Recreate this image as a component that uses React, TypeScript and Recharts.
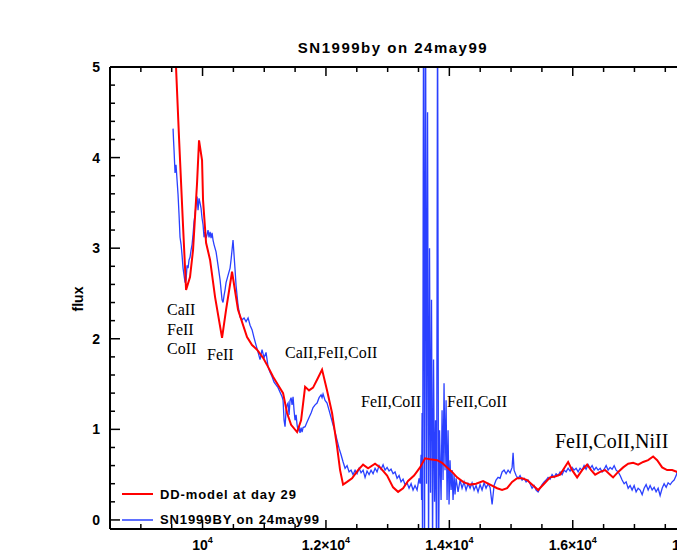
import React from 'react';
import { LineChart, Line, XAxis, YAxis } from 'recharts';

// DD model spectrum: [wavelength (A), flux]
const model: [number, number][] = [
  [9550, 5.3], [9570, 5.0], [9620, 4.2], [9680, 3.3], [9733, 2.54], [9797, 2.68], [9846, 2.98],
  [9911, 3.72], [9943, 4.19], [9992, 3.97], [10008, 3.53], [10057, 3.06], [10122, 2.87], [10203, 2.46],
  [10316, 2.01], [10381, 2.32], [10478, 2.74], [10575, 2.32], [10721, 2.02], [10802, 1.93], [10883, 1.88],
  [10981, 1.79], [11062, 1.69], [11143, 1.58], [11224, 1.49], [11305, 1.4], [11370, 1.18], [11435, 1.05],
  [11532, 0.97], [11597, 1.1], [11662, 1.47], [11726, 1.43], [11791, 1.46], [11872, 1.57], [11937, 1.66],
  [12018, 1.43], [12099, 1.18], [12180, 0.81], [12229, 0.55], [12278, 0.39], [12342, 0.42], [12423, 0.46],
  [12520, 0.55], [12602, 0.61], [12683, 0.57], [12796, 0.62], [12877, 0.58], [12991, 0.49], [13088, 0.36],
  [13169, 0.31], [13250, 0.35], [13331, 0.43], [13428, 0.49], [13525, 0.58], [13606, 0.68], [13687, 0.67],
  [13801, 0.66], [13882, 0.63], [13963, 0.58], [14044, 0.53], [14125, 0.47], [14222, 0.42], [14336, 0.39],
  [14433, 0.4], [14547, 0.43], [14660, 0.39], [14774, 0.35], [14855, 0.33], [14936, 0.35], [15017, 0.42],
  [15098, 0.46], [15179, 0.46], [15260, 0.44], [15358, 0.38], [15439, 0.33], [15536, 0.4], [15633, 0.47],
  [15714, 0.48], [15795, 0.5], [15860, 0.57], [15925, 0.64], [15990, 0.55], [16071, 0.47], [16152, 0.55],
  [16233, 0.61], [16298, 0.55], [16363, 0.5], [16444, 0.53], [16525, 0.55], [16606, 0.5], [16654, 0.47],
  [16736, 0.53], [16817, 0.58], [16898, 0.62], [16979, 0.63], [17060, 0.61], [17141, 0.64], [17222, 0.66],
  [17303, 0.7], [17368, 0.66], [17449, 0.58], [17530, 0.55], [17611, 0.55], [17692, 0.53], [17900, 0.52],
  [18100, 0.52],
];

// observed SN1999BY spectrum: [wavelength (A), flux]
const observed: [number, number][] = [
  [9522, 4.32], [9530, 4.19], [9538, 4.08], [9554, 3.83], [9570, 3.92], [9587, 3.75], [9603, 3.59],
  [9619, 3.37], [9635, 3.12], [9652, 3.04], [9668, 2.92], [9684, 2.78], [9700, 2.7], [9717, 2.62],
  [9733, 2.65], [9749, 2.81], [9765, 2.78], [9781, 2.87], [9797, 2.9], [9814, 2.98], [9830, 3.04],
  [9846, 3.15], [9862, 3.29], [9878, 3.37], [9895, 3.48], [9911, 3.57], [9927, 3.42], [9943, 3.55],
  [9959, 3.5], [9976, 3.44], [9992, 3.33], [10008, 3.26], [10024, 3.12], [10041, 3.18], [10057, 3.11],
  [10073, 3.15], [10089, 3.2], [10105, 3.12], [10122, 3.18], [10138, 3.11], [10154, 3.17], [10170, 3.09],
  [10186, 3.04], [10219, 2.96], [10251, 2.81], [10284, 2.65], [10316, 2.43], [10332, 2.4], [10349, 2.48],
  [10365, 2.54], [10381, 2.62], [10413, 2.7], [10446, 2.78], [10462, 2.87], [10478, 2.98], [10494, 3.09],
  [10511, 2.92], [10527, 2.76], [10543, 2.59], [10575, 2.37], [10608, 2.24], [10640, 2.21], [10673, 2.23],
  [10705, 2.19], [10738, 2.23], [10770, 2.15], [10802, 2.1], [10835, 2.01], [10867, 1.93], [10900, 1.85],
  [10932, 1.77], [10964, 1.88], [10997, 1.79], [11029, 1.85], [11062, 1.69], [11094, 1.63], [11127, 1.58],
  [11159, 1.52], [11191, 1.49], [11224, 1.46], [11256, 1.41], [11289, 1.36], [11305, 1.32], [11321, 1.1],
  [11337, 1.03], [11354, 1.21], [11370, 1.27], [11386, 1.29], [11402, 1.16], [11418, 1.32], [11435, 1.35],
  [11451, 1.27], [11467, 1.36], [11483, 1.21], [11499, 1.1], [11516, 1.16], [11532, 1.05], [11548, 0.99],
  [11564, 1.02], [11580, 0.96], [11597, 1.02], [11613, 0.97], [11629, 1.02], [11662, 1.03], [11694, 1.08],
  [11726, 1.13], [11759, 1.18], [11791, 1.24], [11824, 1.27], [11856, 1.29], [11889, 1.35], [11921, 1.38],
  [11937, 1.35], [11953, 1.39], [11986, 1.32], [12018, 1.29], [12051, 1.21], [12083, 1.13], [12115, 1.05],
  [12148, 0.97], [12180, 0.88], [12213, 0.79], [12245, 0.72], [12278, 0.64], [12310, 0.57], [12342, 0.6],
  [12375, 0.53], [12407, 0.55], [12439, 0.5], [12472, 0.55], [12504, 0.51], [12537, 0.57], [12569, 0.52],
  [12602, 0.55], [12634, 0.47], [12666, 0.54], [12699, 0.5], [12731, 0.55], [12764, 0.51], [12796, 0.57],
  [12828, 0.53], [12861, 0.6], [12893, 0.56], [12926, 0.61], [12958, 0.55], [12991, 0.58], [13023, 0.54],
  [13055, 0.56], [13088, 0.51], [13120, 0.53], [13153, 0.46], [13185, 0.49], [13217, 0.42], [13250, 0.45],
  [13282, 0.39], [13315, 0.41], [13347, 0.35], [13380, 0.4], [13412, 0.33], [13444, 0.38], [13477, 0.33],
  [13509, 0.46], [13525, 0.4], [13542, 0.72], [13550, 0.22], [13558, 1.18], [13566, -0.5], [13582, 6.0],
  [13598, -0.5], [13614, 6.0], [13630, 0.4], [13647, 4.5], [13663, -0.5], [13679, 3.0], [13695, 0.3],
  [13711, 2.43], [13728, -0.3], [13744, 1.77], [13760, 0.2], [13776, 1.1], [13793, -0.5], [13809, 6.0],
  [13825, -0.5], [13841, 0.99], [13866, 0.22], [13882, 1.21], [13898, 0.44], [13914, 1.51], [13930, 0.55],
  [13947, 1.32], [13963, 0.22], [13979, 0.99], [13995, 0.17], [14011, 0.66], [14028, 0.33], [14044, 0.55],
  [14060, 0.22], [14076, 0.5], [14092, 0.28], [14109, 0.46], [14141, 0.31], [14174, 0.44], [14206, 0.35],
  [14238, 0.42], [14271, 0.33], [14303, 0.4], [14336, 0.35], [14368, 0.41], [14401, 0.33], [14433, 0.38],
  [14465, 0.31], [14498, 0.39], [14530, 0.33], [14563, 0.41], [14595, 0.35], [14628, 0.4], [14660, 0.36],
  [14693, 0.17], [14725, 0.38], [14757, 0.44], [14790, 0.47], [14822, 0.46], [14855, 0.53], [14887, 0.55],
  [14920, 0.51], [14952, 0.55], [14984, 0.52], [15017, 0.58], [15033, 0.74], [15049, 0.55], [15082, 0.49],
  [15114, 0.46], [15146, 0.49], [15179, 0.44], [15211, 0.46], [15244, 0.42], [15276, 0.44], [15308, 0.4],
  [15341, 0.35], [15373, 0.38], [15406, 0.33], [15438, 0.31], [15471, 0.35], [15503, 0.39], [15536, 0.42],
  [15568, 0.44], [15600, 0.47], [15633, 0.45], [15665, 0.5], [15698, 0.47], [15730, 0.51], [15762, 0.49],
  [15795, 0.53], [15827, 0.5], [15860, 0.55], [15892, 0.53], [15925, 0.57], [15957, 0.54], [15990, 0.58],
  [16022, 0.55], [16054, 0.57], [16087, 0.53], [16119, 0.57], [16152, 0.55], [16184, 0.6], [16216, 0.56],
  [16249, 0.61], [16281, 0.57], [16314, 0.6], [16346, 0.55], [16379, 0.58], [16411, 0.55], [16444, 0.57],
  [16476, 0.53], [16509, 0.56], [16541, 0.6], [16573, 0.55], [16606, 0.58], [16638, 0.56], [16671, 0.6],
  [16703, 0.55], [16736, 0.53], [16768, 0.49], [16800, 0.44], [16833, 0.4], [16865, 0.42], [16898, 0.35],
  [16930, 0.38], [16962, 0.33], [16995, 0.38], [17027, 0.31], [17060, 0.35], [17092, 0.33], [17125, 0.28],
  [17157, 0.35], [17189, 0.39], [17222, 0.33], [17254, 0.38], [17287, 0.33], [17319, 0.36], [17351, 0.31],
  [17384, 0.35], [17416, 0.27], [17449, 0.35], [17481, 0.4], [17514, 0.36], [17546, 0.41], [17579, 0.39],
  [17611, 0.42], [17643, 0.44], [17676, 0.49], [17692, 0.53], [17800, 0.55], [18000, 0.55],
];

const xTicks = [
  8500, 9000, 9500, 10000, 10500, 11000, 11500, 12000, 12500, 13000, 13500,
  14000, 14500, 15000, 15500, 16000, 16500, 17000, 17500, 18000, 18500,
];
const xMajor = [10000, 12000, 14000, 16000, 18000];
const xMajorLabels = ['10', '1.2×10', '1.4×10', '1.6×10', '1.8×10'];
const yTicks = [
  0, 0.2, 0.4, 0.6, 0.8, 1, 1.2, 1.4, 1.6, 1.8, 2, 2.2, 2.4, 2.6, 2.8, 3,
  3.2, 3.4, 3.6, 3.8, 4, 4.2, 4.4, 4.6, 4.8, 5,
];

const modelData = model.map(([w, f]) => ({ w, f }));
const obsData = observed.map(([w, f]) => ({ w, f }));

const RED = '#ff0000';
const BLUE = '#2a40ff';
const SANS = "'Liberation Sans', Arial, sans-serif";
const SERIF = "'Liberation Serif', 'Times New Roman', serif";

const BottomTick = (props: any) => {
  const { x, y, payload } = props;
  const i = xMajor.indexOf(payload.value);
  return (
    <g>
      <line x1={x} x2={x} y1={y} y2={y - (i >= 0 ? 9 : 5)} stroke="#000" strokeWidth={1.5} />
      {i >= 0 && (
        <text x={x} y={y + 21} textAnchor="middle" fontFamily={SANS} fontWeight="bold" fontSize={14} fill="#000">
          {xMajorLabels[i]}
          <tspan dy={-7} fontSize={9}>4</tspan>
        </text>
      )}
    </g>
  );
};

const TopTick = (props: any) => {
  const { x, y, payload } = props;
  const major = xMajor.indexOf(payload.value) >= 0;
  return <line x1={x} x2={x} y1={y} y2={y + (major ? 9 : 5)} stroke="#000" strokeWidth={1.5} />;
};

const LeftTick = (props: any) => {
  const { x, y, payload } = props;
  const v = payload.value;
  const major = Number.isInteger(v);
  return (
    <g>
      <line x1={x} x2={x + (major ? 10 : 5)} y1={y} y2={y} stroke="#000" strokeWidth={1.5} />
      {major && (
        <text x={x - 10} y={y + 5} textAnchor="end" fontFamily={SANS} fontWeight="bold" fontSize={14} fill="#000">
          {v}
        </text>
      )}
    </g>
  );
};

const noteStyle = { fontFamily: SERIF, fontSize: 16, fill: '#000' };

export default function App() {
  return (
    <div style={{ position: 'absolute', left: 0, top: 0, width: 677, height: 556, overflow: 'hidden', background: '#fff' }}>
      <LineChart width={760} height={556} margin={{ top: 62, right: 33, bottom: 0, left: 50 }}>
        <XAxis
          dataKey="w"
          type="number"
          domain={[8500, 18500]}
          allowDataOverflow
          ticks={xTicks}
          interval={0}
          tickSize={0}
          tickMargin={0}
          tickLine={false}
          tick={<BottomTick />}
          height={27}
          axisLine={{ stroke: '#000', strokeWidth: 2 }}
        />
        <XAxis
          xAxisId="top"
          orientation="top"
          dataKey="w"
          type="number"
          domain={[8500, 18500]}
          allowDataOverflow
          ticks={xTicks}
          interval={0}
          tickSize={0}
          tickMargin={0}
          tickLine={false}
          tick={<TopTick />}
          height={5}
          axisLine={{ stroke: '#000', strokeWidth: 2 }}
        />
        <YAxis
          type="number"
          domain={[-0.1, 5]}
          allowDataOverflow
          ticks={yTicks}
          interval={0}
          tickSize={0}
          tickMargin={0}
          tickLine={false}
          tick={<LeftTick />}
          width={60}
          axisLine={{ stroke: '#000', strokeWidth: 2 }}
        />
        <Line data={obsData} dataKey="f" type="linear" stroke={BLUE} strokeWidth={1.3} dot={false} isAnimationActive={false} />
        <Line data={modelData} dataKey="f" type="linear" stroke={RED} strokeWidth={2} dot={false} isAnimationActive={false} />
      </LineChart>
      <svg width={677} height={556} style={{ position: 'absolute', left: 0, top: 0, pointerEvents: 'none' }}>
        <text x={393} y={53} textAnchor="middle" fontFamily={SANS} fontWeight="bold" fontSize={15} letterSpacing={1.5} fill="#000">
          SN1999by on 24may99
        </text>
        <text x={83} y={299} transform="rotate(-90 83 299)" textAnchor="middle" fontFamily={SANS} fontWeight="bold" fontSize={14} fill="#000">
          flux
        </text>
        <text x={167} y={315} {...noteStyle}>CaII</text>
        <text x={167} y={335} {...noteStyle}>FeII</text>
        <text x={167} y={354} {...noteStyle}>CoII</text>
        <text x={207} y={360} {...noteStyle}>FeII</text>
        <text x={285} y={358} {...noteStyle}>CaII,FeII,CoII</text>
        <text x={361} y={407} {...noteStyle}>FeII,CoII</text>
        <text x={447} y={407} {...noteStyle}>FeII,CoII</text>
        <text x={555} y={448} {...noteStyle} fontSize={20}>FeII,CoII,NiII</text>
        <line x1={122} x2={153} y1={494} y2={494} stroke={RED} strokeWidth={2} />
        <text x={160} y={499} fontFamily={SANS} fontWeight="bold" fontSize={13} letterSpacing={0.9} fill="#000">
          DD-model at day 29
        </text>
        <line x1={122} x2={153} y1={520} y2={520} stroke={BLUE} strokeWidth={1.5} />
        <text x={160} y={524} fontFamily={SANS} fontWeight="bold" fontSize={13} letterSpacing={0.9} fill="#000">
          SN1999BY on 24may99
        </text>
      </svg>
    </div>
  );
}
